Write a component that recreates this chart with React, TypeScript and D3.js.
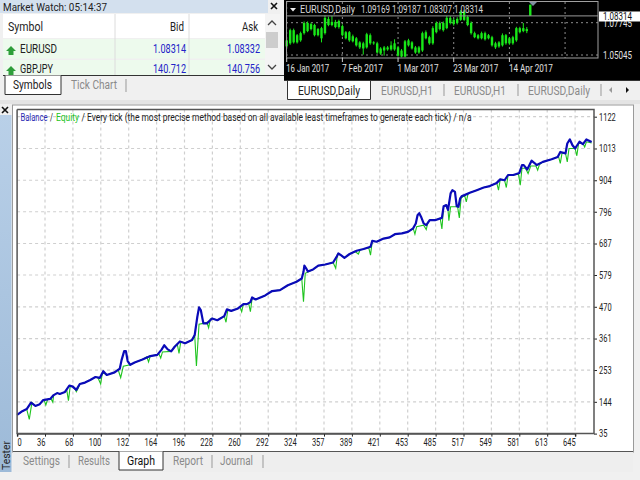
import React, { useRef, useEffect } from 'react';
import * as d3 from 'd3';

const xLabels = ['0', '36', '68', '100', '132', '164', '196', '228', '260', '292', '324', '357', '389', '421', '453', '485', '517', '549', '581', '613', '645'];
const yLabels = [35, 144, 253, 361, 470, 579, 687, 796, 904, 1013, 1122];

const balanceTrades = [4, 10, 15, 20, 25, 30, 34, 42, 46, 50, 53, 59, 64, 68, 72, 76, 82, 88, 94, 99, 103, 107, 116, 122, 124, 127, 129, 131, 134, 139, 148, 157, 165, 170, 173, 177, 181, 185, 191, 197, 205, 208, 211, 213, 215, 218, 222, 228, 234, 242, 245, 250, 257, 264, 268, 272, 274, 278, 289, 297, 306, 315, 325, 331, 333, 334, 336, 338, 344, 350, 358, 367, 371, 373, 376, 380, 386, 394, 402, 410, 412, 417, 425, 432, 438, 446, 453, 459, 462, 464, 466, 468, 471, 474, 478, 484, 492, 494, 497, 499, 502, 504, 507, 509, 511, 513, 515, 518, 524, 532, 540, 547, 555, 559, 564, 568, 574, 581, 584, 586, 590, 595, 598, 601, 608, 618, 625, 628, 634, 636, 639, 642, 645, 650, 654, 658, 664];
const balanceValues = [99, 112, 119, 141, 130, 136, 150, 154, 167, 174, 171, 178, 200, 196, 185, 205, 210, 219, 229, 226, 249, 236, 245, 258, 287, 318, 318, 284, 271, 279, 289, 301, 305, 323, 338, 324, 317, 333, 351, 345, 356, 373, 435, 468, 459, 413, 413, 430, 424, 438, 461, 456, 463, 479, 479, 486, 502, 495, 509, 524, 527, 544, 556, 567, 590, 611, 602, 591, 598, 611, 615, 622, 641, 653, 647, 638, 651, 662, 668, 676, 696, 693, 704, 708, 719, 722, 727, 739, 756, 784, 791, 779, 756, 750, 767, 767, 775, 815, 819, 802, 859, 870, 864, 815, 813, 842, 850, 853, 861, 870, 879, 884, 895, 907, 904, 922, 922, 929, 956, 956, 941, 971, 964, 956, 967, 976, 984, 1001, 996, 1030, 1044, 1024, 1013, 1036, 1028, 1044, 1035];

const equityTrades = [4, 10, 15, 18, 21, 25, 30, 34, 35, 37, 39, 42, 43, 45, 46, 50, 53, 59, 61, 63, 65, 68, 71, 72, 74, 76, 82, 88, 94, 97, 100, 102, 107, 116, 120, 123, 126, 134, 139, 148, 153, 155, 157, 165, 167, 169, 171, 181, 185, 188, 190, 192, 197, 205, 208, 210, 213, 218, 222, 224, 226, 228, 234, 242, 244, 246, 250, 257, 260, 262, 264, 268, 270, 272, 274, 278, 289, 297, 306, 315, 325, 331, 333, 335, 344, 350, 358, 367, 370, 372, 376, 380, 386, 392, 396, 398, 402, 408, 410, 412, 417, 425, 432, 438, 446, 453, 459, 461, 463, 471, 474, 476, 478, 484, 490, 492, 494, 497, 499, 500, 502, 510, 512, 514, 518, 520, 522, 524, 532, 540, 547, 555, 557, 559, 564, 566, 568, 574, 580, 582, 584, 588, 591, 594, 600, 602, 604, 608, 618, 625, 626, 628, 630, 634, 636, 638, 645, 647, 649, 654, 656, 658, 664];
const equityValues = [99, 112, 119, 84, 141, 130, 136, 150, 150, 133, 152, 154, 154, 143, 167, 174, 171, 178, 185, 148, 198, 196, 186, 179, 190, 205, 210, 219, 229, 226, 205, 245, 236, 245, 255, 227, 266, 271, 279, 289, 298, 281, 301, 305, 308, 294, 315, 317, 333, 342, 310, 350, 345, 356, 373, 267, 410, 413, 416, 398, 428, 430, 424, 438, 417, 458, 456, 463, 470, 453, 479, 479, 482, 453, 500, 495, 509, 524, 527, 544, 556, 567, 487, 585, 598, 611, 615, 622, 602, 650, 647, 638, 651, 660, 651, 665, 668, 672, 647, 696, 693, 704, 708, 719, 722, 727, 739, 719, 745, 750, 735, 760, 767, 767, 774, 737, 815, 815, 802, 765, 813, 813, 775, 842, 853, 830, 857, 861, 870, 879, 884, 895, 870, 907, 904, 879, 922, 922, 925, 887, 945, 945, 927, 953, 953, 939, 958, 967, 976, 984, 985, 962, 998, 996, 967, 1013, 1013, 988, 1030, 1030, 1018, 1036, 1032];

const bodyTop = [1.0627, 1.0712, 1.0712, 1.067, 1.0687, 1.0772, 1.0772, 1.0763, 1.0755, 1.0721, 1.0729, 1.0815, 1.0806, 1.0781, 1.0781, 1.0789, 1.0746, 1.0695, 1.0695, 1.0661, 1.0644, 1.061, 1.0602, 1.0678, 1.067, 1.061, 1.0602, 1.0559, 1.0568, 1.0568, 1.0585, 1.0602, 1.0568, 1.0542, 1.0619, 1.0627, 1.061, 1.0568, 1.0568, 1.0687, 1.0695, 1.0653, 1.0729, 1.0772, 1.0772, 1.0772, 1.0815, 1.0815, 1.0798, 1.0806, 1.0866, 1.0866, 1.0823, 1.0772, 1.0687, 1.067, 1.0687, 1.0687, 1.067, 1.0653, 1.0602, 1.061, 1.067, 1.067, 1.0644, 1.0653, 1.0729, 1.0729, 1.0729, 1.0721, 1.0925];
const bodyBottom = [1.0576, 1.0602, 1.061, 1.061, 1.0627, 1.0687, 1.0704, 1.0721, 1.067, 1.067, 1.0644, 1.0687, 1.0755, 1.0755, 1.0738, 1.0738, 1.067, 1.0644, 1.0627, 1.0619, 1.0585, 1.0568, 1.0559, 1.0568, 1.0602, 1.0602, 1.0525, 1.0516, 1.0542, 1.0551, 1.0551, 1.0551, 1.0499, 1.0491, 1.0491, 1.0585, 1.0559, 1.0525, 1.0525, 1.0542, 1.0644, 1.0602, 1.0602, 1.0695, 1.0721, 1.0712, 1.0729, 1.0772, 1.0763, 1.0772, 1.0798, 1.0798, 1.0755, 1.0687, 1.0653, 1.0644, 1.0644, 1.0636, 1.0644, 1.0585, 1.0568, 1.0576, 1.0585, 1.0602, 1.0602, 1.0602, 1.0627, 1.0695, 1.0704, 1.0704, 1.0832];
const candleHigh = [1.0640, 1.0725, 1.0725, 1.0680, 1.0700, 1.0785, 1.0785, 1.0775, 1.0765, 1.0730, 1.0740, 1.0835, 1.0825, 1.0832, 1.0798, 1.0800, 1.0760, 1.0705, 1.0705, 1.0675, 1.0655, 1.0620, 1.0615, 1.0690, 1.0685, 1.0620, 1.0615, 1.0570, 1.0580, 1.0580, 1.0619, 1.0636, 1.0580, 1.0555, 1.0630, 1.0640, 1.0620, 1.0580, 1.0580, 1.0700, 1.0710, 1.0665, 1.0745, 1.0785, 1.0785, 1.0785, 1.0830, 1.0830, 1.0810, 1.0820, 1.0880, 1.0880, 1.0835, 1.0785, 1.0700, 1.0680, 1.0700, 1.0700, 1.0680, 1.0665, 1.0615, 1.0620, 1.0685, 1.0680, 1.0655, 1.0665, 1.0740, 1.0740, 1.0772, 1.0738, 1.0925];
const candleLow = [1.0565, 1.0590, 1.0600, 1.0600, 1.0615, 1.0675, 1.0695, 1.0710, 1.0660, 1.0660, 1.0610, 1.0675, 1.0745, 1.0745, 1.0728, 1.0725, 1.0660, 1.0635, 1.0615, 1.0610, 1.0575, 1.0555, 1.0508, 1.0558, 1.0590, 1.0590, 1.0515, 1.0505, 1.0499, 1.0540, 1.0540, 1.0540, 1.0491, 1.0485, 1.0485, 1.0575, 1.0550, 1.0515, 1.0515, 1.0530, 1.0635, 1.0590, 1.0590, 1.0685, 1.0710, 1.0700, 1.0720, 1.0760, 1.0750, 1.0760, 1.0790, 1.0790, 1.0745, 1.0675, 1.0645, 1.0635, 1.0635, 1.0625, 1.0635, 1.0575, 1.0555, 1.0565, 1.0575, 1.0590, 1.0590, 1.0590, 1.0615, 1.0685, 1.0695, 1.0687, 1.0832];

const dateLabels = ['16 Jan 2017', '7 Feb 2017', '1 Mar 2017', '23 Mar 2017', '14 Apr 2017'];
const dateBars = [0, 16, 32, 48, 64];
const dateWidths = [43, 41, 41, 45, 44];
const priceLabels = [1.07745, 1.05045];
const lastPrice = 1.08314;

const chartTabs = ['EURUSD,Daily', 'EURUSD,H1', 'EURUSD,H1', 'EURUSD,Daily'];
const chartTabX = [298, 381, 454, 528];
const chartTabW = [62, 52, 52, 62];
const testerTabs = ['Settings', 'Results', 'Graph', 'Report', 'Journal'];
const testerTabX = [23, 78, 127, 173, 220];
const testerTabW = [37, 32, 28, 30, 33];
const symbols = ['EURUSD', 'GBPJPY'];
const symbolW = [37, 33];
const bids = ['1.08314', '140.712'];
const asks = ['1.08332', '140.756'];

const FONT = 'Roboto, "Noto Sans", sans-serif';

const App: React.FC = () => {
  const ref = useRef<SVGSVGElement | null>(null);

  useEffect(() => {
    if (!ref.current) return;
    const svg = d3.select(ref.current);
    svg.selectAll('*').remove();
    svg.style('font-family', FONT);

    const rect = (x: number, y: number, w: number, h: number, fill: string, stroke = 'none') =>
      svg.append('rect').attr('x', x).attr('y', y).attr('width', w).attr('height', h)
        .attr('fill', fill).attr('stroke', stroke);
    // fit squeezes the text to the width it has in the downscaled screenshot
    const label = (x: number, y: number, s: string, size: number, fill: string, anchor = 'start', fit?: number) => {
      const t = svg.append('text').attr('x', x).attr('y', y).attr('font-size', size)
        .attr('fill', fill).attr('text-anchor', anchor).text(s);
      if (fit) t.attr('textLength', fit).attr('lengthAdjust', 'spacingAndGlyphs');
      return t;
    };
    const cross = (cx: number, cy: number) =>
      svg.append('path').attr('d', `M${cx - 3} ${cy - 3}l6 6m0 -6l-6 6`).attr('stroke', '#111').attr('stroke-width', 1.6);

    rect(0, 0, 640, 480, '#f0f0f0');

    // market watch
    rect(0, 0, 268, 13, '#d3e0ee');
    label(3, 10.5, 'Market Watch: 05:14:37', 11, '#222', 'start', 104);
    cross(274, 6);
    rect(3, 14, 262, 24, '#ffffff');
    rect(3, 39, 262, 19.5, '#edfaed');
    rect(3, 60, 262, 15, '#edfaed');
    svg.append('line').attr('x1', 115).attr('x2', 115).attr('y1', 14).attr('y2', 75).attr('stroke', '#dcdcdc');
    svg.append('line').attr('x1', 189).attr('x2', 189).attr('y1', 14).attr('y2', 75).attr('stroke', '#dcdcdc');
    label(8, 31, 'Symbol', 12, '#222', 'start', 35);
    label(184, 31, 'Bid', 12, '#222', 'end', 14);
    label(258, 31, 'Ask', 12, '#222', 'end', 16);
    symbols.forEach((s, i) => {
      const y = 53 + i * 20;
      svg.append('path').attr('d', `M11 ${y - 7}l5 5h-2.5v4h-5v-4h-2.5z`).attr('fill', '#2e9e3a');
      label(20, y, s, 12, '#222', 'start', symbolW[i]);
      label(186, y, bids[i], 12, '#2222c8', 'end', 33);
      label(260, y, asks[i], 12, '#2222c8', 'end', 33);
    });
    rect(265, 14, 15, 62, '#f4f4f4');
    rect(266, 32, 12, 16, '#cdcdcd');
    svg.append('path').attr('d', 'M268 25l4-4 4 4M268 65l4 4 4-4').attr('fill', 'none').attr('stroke', '#444').attr('stroke-width', 1.3);
    svg.append('path').attr('d', 'M3 75.5H284').attr('stroke', '#333');
    svg.append('path').attr('d', 'M5 75.5V94.5H61V75.5').attr('fill', '#fff').attr('stroke', '#333');
    label(13, 89, 'Symbols', 12, '#222', 'start', 39);
    label(71, 89, 'Tick Chart', 12, '#8a8a8a', 'start', 46);
    svg.append('line').attr('x1', 126).attr('x2', 126).attr('y1', 79).attr('y2', 92).attr('stroke', '#999');

    // price chart
    rect(284, 0, 356, 80, '#000000');
    const bars = d3.range(bodyTop.length);
    const xBar = d3.scaleLinear().domain([0, 64]).range([286.7, 509.4]);
    const yPrice = d3.scaleLinear().domain([1.07745, 1.05045]).range([22.7, 55]);

    dateBars.concat([80]).forEach((b) => {
      svg.append('line').attr('x1', xBar(b)).attr('x2', xBar(b)).attr('y1', 2).attr('y2', 58)
        .attr('stroke', '#8c8c8c').attr('stroke-dasharray', '2 3');
    });
    priceLabels.forEach((p) => {
      svg.append('line').attr('x1', 286).attr('x2', 598).attr('y1', yPrice(p)).attr('y2', yPrice(p))
        .attr('stroke', '#8c8c8c').attr('stroke-dasharray', '2 3');
    });
    svg.append('g').selectAll('line').data(bars).join('line')
      .attr('x1', (i) => xBar(i)).attr('x2', (i) => xBar(i))
      .attr('y1', (i) => yPrice(candleHigh[i])).attr('y2', (i) => yPrice(candleLow[i]))
      .attr('stroke', '#18e818');
    svg.append('g').selectAll('rect').data(bars).join('rect')
      .attr('x', (i) => xBar(i) - 1.2).attr('width', 2.4)
      .attr('y', (i) => yPrice(bodyTop[i]))
      .attr('height', (i) => Math.max(1, yPrice(bodyBottom[i]) - yPrice(bodyTop[i])))
      .attr('fill', '#18e818');
    svg.append('line').attr('x1', 286).attr('x2', 598).attr('y1', yPrice(lastPrice)).attr('y2', yPrice(lastPrice)).attr('stroke', '#9a9a9a');
    rect(286.5, 1.5, 311.5, 56.5, 'none', '#a0a0a0');
    svg.append('path').attr('d', 'M529 2h8l-4 4z').attr('fill', '#7f8fa0');
    svg.append('path').attr('d', 'M290 8h6l-3 3.5z').attr('fill', '#eee');
    label(300, 13, 'EURUSD,Daily', 10.5, '#d8d8d8', 'start', 55);
    label(361, 13, '1.09169 1.09187 1.08307 1.08314', 10.5, '#d8d8d8', 'start', 122);
    dateLabels.forEach((d, i) => {
      svg.append('line').attr('x1', xBar(dateBars[i])).attr('x2', xBar(dateBars[i])).attr('y1', 58).attr('y2', 62).attr('stroke', '#ccc');
      label(xBar(dateBars[i]) - 0.5, 72, d, 10.5, '#e0e0e0', 'start', dateWidths[i]);
    });
    priceLabels.forEach((p) => {
      label(603, yPrice(p) + 4, p.toFixed(5), 10, '#e4e4e4', 'start', 29);
    });
    rect(599, 11.5, 41, 10, '#ffffff');
    label(603, 20, lastPrice.toFixed(5), 10, '#111', 'start', 29);

    // chart tabs
    rect(284, 80, 356, 20, '#f0f0f0');
    svg.append('path').attr('d', 'M287.5 80.5V99.5H370.5V80.5').attr('fill', '#fff').attr('stroke', '#333');
    svg.append('path').attr('d', 'M284 80.5H640').attr('stroke', '#333');
    chartTabs.forEach((t, i) => {
      label(chartTabX[i], 95, t, 12, i === 0 ? '#222' : '#8a8a8a', 'start', chartTabW[i]);
    });
    [444, 518, 601].forEach((x) => {
      svg.append('line').attr('x1', x).attr('x2', x).attr('y1', 84).attr('y2', 96).attr('stroke', '#999');
    });
    svg.append('path').attr('d', 'M612 87v6l-3-3z').attr('fill', '#999');
    svg.append('path').attr('d', 'M626 87v6l3-3z').attr('fill', '#111');

    // tester side panel
    rect(0, 100, 640, 4, '#e4e4e4');
    const side = svg.append('defs').append('linearGradient').attr('id', 'side').attr('x1', 0).attr('x2', 0).attr('y1', 0).attr('y2', 1);
    side.append('stop').attr('offset', '0').attr('stop-color', '#b9d0e8');
    side.append('stop').attr('offset', '1').attr('stop-color', '#9dbad8');
    rect(0, 115, 11.5, 357, 'url(#side)');
    cross(5, 110);
    svg.append('text').attr('transform', 'translate(10,470) rotate(-90)').attr('font-size', 11.5).attr('fill', '#222')
      .attr('textLength', 29).attr('lengthAdjust', 'spacingAndGlyphs').text('Tester');

    // equity chart
    rect(12.5, 105, 621, 347, '#ffffff', '#9a9a9a');
    rect(13, 452, 620, 20, '#eeeeee');
    const left = 17.1;
    const step = 27.9;
    const bottom = 433.6;
    const top = 109.5;
    const right = 594;

    const xAxisScale = d3.scalePoint<string>().domain(xLabels).range([left, left + step * (xLabels.length - 1)]);
    const xTrade = d3.scaleLinear().domain([4, 645]).range([left, left + step * (xLabels.length - 1)]);
    const yValue = d3.scaleLinear().domain([35, 1122]).range([bottom, 116.7]);

    const grid = svg.append('g').attr('stroke', '#cfcfcf').attr('stroke-width', 1.2).attr('stroke-dasharray', '3 3');
    grid.selectAll('line.v').data(xLabels.slice(1)).join('line').attr('class', 'v')
      .attr('x1', (d) => xAxisScale(d) as number).attr('x2', (d) => xAxisScale(d) as number)
      .attr('y1', top).attr('y2', bottom);
    grid.selectAll('line.h').data(yLabels.slice(1)).join('line').attr('class', 'h')
      .attr('x1', left).attr('x2', right)
      .attr('y1', (d) => yValue(d)).attr('y2', (d) => yValue(d));

    const line = d3.line<number>().x((d) => xTrade(d));
    svg.append('path')
      .attr('d', line.y((_, i) => yValue(equityValues[i]))(equityTrades))
      .attr('fill', 'none').attr('stroke', '#1fc41f').attr('stroke-width', 1.1);
    svg.append('path')
      .attr('d', line.y((_, i) => yValue(balanceValues[i]))(balanceTrades))
      .attr('fill', 'none').attr('stroke', '#0a0ab8').attr('stroke-width', 2.2).attr('stroke-linejoin', 'round');

    const xAxis = svg.append('g').attr('transform', `translate(0,${bottom})`)
      .call(d3.axisBottom(xAxisScale).tickSize(3).tickPadding(2));
    xAxis.select('.domain').attr('stroke', '#555').attr('stroke-width', 1.5);
    xAxis.selectAll('.tick line').attr('stroke', '#222');
    xAxis.selectAll<SVGTextElement, string>('.tick text').attr('font-family', FONT).attr('font-size', 10.5).attr('fill', '#222')
      .attr('text-anchor', (d) => (d === '0' ? 'start' : 'end'))
      .attr('textLength', (d) => d.length * 4.2).attr('lengthAdjust', 'spacingAndGlyphs');

    const yAxis = svg.append('g').attr('transform', `translate(${right},0)`)
      .call(d3.axisRight(yValue).tickValues(yLabels).tickFormat((d) => String(d)).tickSize(3).tickPadding(2));
    yAxis.select('.domain').remove();
    yAxis.selectAll('.tick line').attr('stroke', '#222');
    yAxis.selectAll<SVGTextElement, number>('.tick text').attr('font-family', FONT).attr('font-size', 10.5).attr('fill', '#222')
      .attr('textLength', (d) => String(d).length * 4.2).attr('lengthAdjust', 'spacingAndGlyphs');

    svg.append('path').attr('d', `M${left} ${top}V${bottom}H${right}V${top}H${left}`)
      .attr('fill', 'none').attr('stroke', '#555').attr('stroke-width', 1.5);

    label(20.5, 121, 'Balance', 10, '#2a2ab4', 'start', 27);
    label(50, 121, '/', 10, '#222', 'start', 3);
    label(56, 121, 'Equity', 10, '#22c322', 'start', 23);
    label(81.5, 121, '/ Every tick (the most precise method based on all available least timeframes to generate each tick) / n/a', 10, '#222', 'start', 390);

    // tester tabs
    svg.append('path').attr('d', 'M13 451.5H633').attr('stroke', '#555').attr('stroke-width', 1.2);
    svg.append('path').attr('d', 'M119 451.5V470H163V451.5').attr('fill', '#fff').attr('stroke', '#333');
    testerTabs.forEach((t, i) => {
      label(testerTabX[i], 465, t, 12, i === 2 ? '#111' : '#8a8a8a', 'start', testerTabW[i]);
    });
    [69, 212, 263].forEach((x) => {
      svg.append('line').attr('x1', x).attr('x2', x).attr('y1', 455).attr('y2', 468).attr('stroke', '#999');
    });
  }, []);

  return <svg ref={ref} width={640} height={480} style={{ position: 'absolute', left: 0, top: 0 }} />;
};

export default App;
